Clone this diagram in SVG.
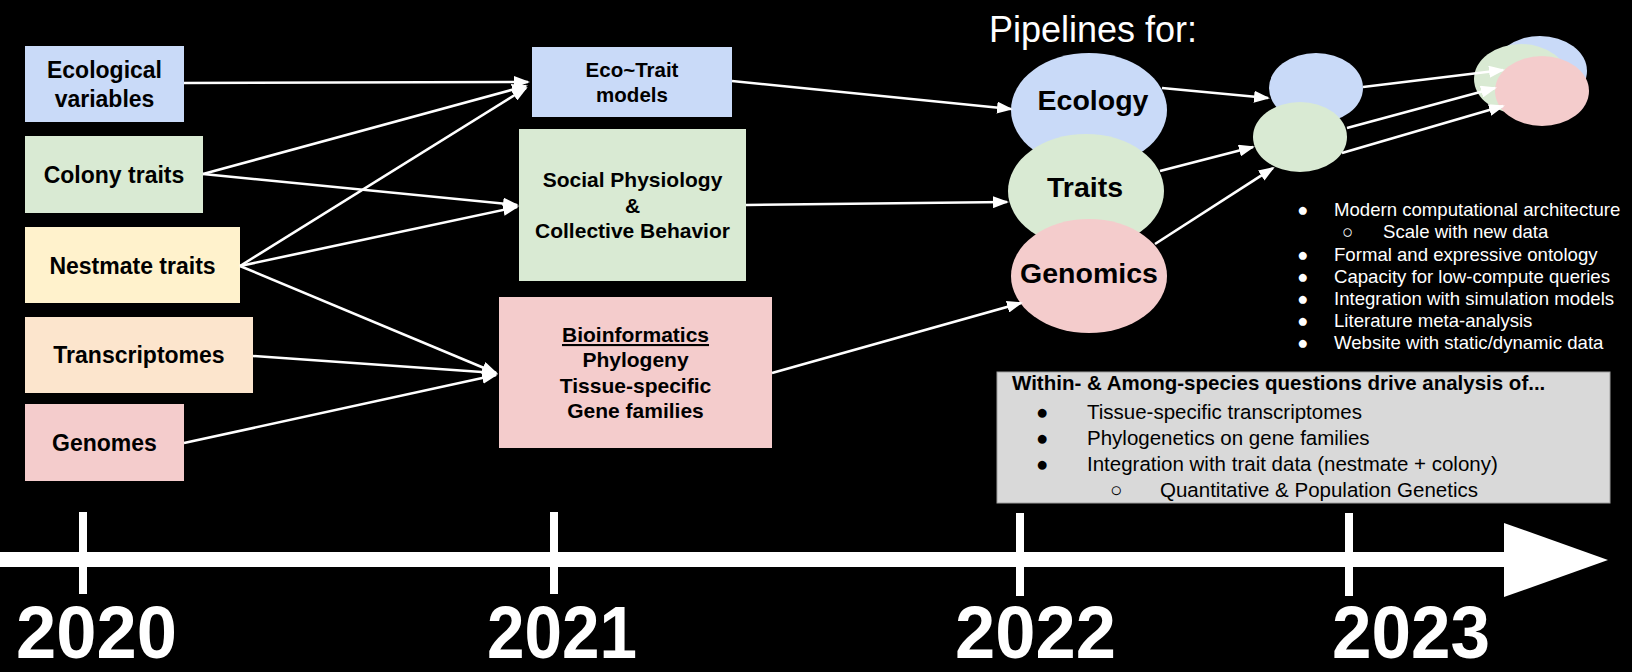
<svg xmlns="http://www.w3.org/2000/svg" width="1632" height="672" viewBox="0 0 1632 672">
<style>
.bx{font-family:"Liberation Sans",Arial,sans-serif;font-weight:bold;fill:#000;text-anchor:middle}
.b23{font-size:23px}
.b21{font-size:21px}
.b20{font-size:20.5px}
.el{font-family:"Liberation Sans",Arial,sans-serif;font-weight:bold;font-size:28.5px;fill:#000;text-anchor:middle}
.wt{font-family:"Liberation Sans",Arial,sans-serif;fill:#fff}
.gt{font-family:"Liberation Sans",Arial,sans-serif;fill:#000;font-size:20.5px}
.yr{font-family:"Liberation Sans",Arial,sans-serif;font-weight:bold;font-size:74px;fill:#fff;text-anchor:middle}
.con line{stroke:#fff;stroke-width:2.6;fill:none;marker-end:url(#ah)}
.blue{fill:#c9daf8}.green{fill:#d9ead3}.yel{fill:#fff2cc}.org{fill:#fce5cd}.pink{fill:#f4cccc}
</style>
<defs>
<marker id="ah" viewBox="0 0 16 12" refX="14" refY="6" markerWidth="16" markerHeight="12" markerUnits="userSpaceOnUse" orient="auto">
<path d="M0,0 L16,6 L0,12 z" fill="#fff"/>
</marker>
</defs>
<rect x="0" y="0" width="1632" height="672" fill="#000"/>

<g id="ecological"><rect class="blue" x="25" y="46" width="159" height="76"/><text class="bx b23" x="104.5" y="78">Ecological</text><text class="bx b23" x="104.5" y="107">variables</text></g>
<g id="colony"><rect class="green" x="25" y="136" width="178" height="77"/><text class="bx b23" x="114" y="183">Colony traits</text></g>
<g id="nestmate"><rect class="yel" x="25" y="227" width="215" height="76"/><text class="bx b23" x="132.5" y="274">Nestmate traits</text></g>
<g id="transcriptomes"><rect class="org" x="25" y="317" width="228" height="76"/><text class="bx b23" x="139" y="363">Transcriptomes</text></g>
<g id="genomes"><rect class="pink" x="25" y="404" width="159" height="77"/><text class="bx b23" x="104.5" y="451">Genomes</text></g>

<g id="ecotrait"><rect class="blue" x="532" y="47" width="200" height="70"/><text class="bx b20" x="632" y="77">Eco~Trait</text><text class="bx b20" x="632" y="102">models</text></g>
<g id="social"><rect class="green" x="519" y="129" width="227" height="152"/><text class="bx b21" x="632.5" y="187">Social Physiology</text><text class="bx b21" x="632.5" y="213">&amp;</text><text class="bx b21" x="632.5" y="238">Collective Behavior</text></g>
<g id="bioinformatics"><rect class="pink" x="499" y="297" width="273" height="151"/><text class="bx b21" x="635.5" y="342" text-decoration="underline">Bioinformatics</text><text class="bx b21" x="635.5" y="367">Phylogeny</text><text class="bx b21" x="635.5" y="393">Tissue-specific</text><text class="bx b21" x="635.5" y="418">Gene families</text></g>

<g id="pipelines-title"><text class="wt" x="989" y="42" font-size="36">Pipelines for:</text></g>
<g id="ecology"><ellipse class="blue" cx="1089" cy="110" rx="78" ry="57"/><text class="el" x="1093" y="110">Ecology</text></g>
<g id="traits"><ellipse class="green" cx="1086" cy="191" rx="78" ry="57"/><text class="el" x="1085" y="197">Traits</text></g>
<g id="genomics"><ellipse class="pink" cx="1089" cy="276" rx="78" ry="57"/><text class="el" x="1089" y="283">Genomics</text></g>

<g id="mid-blue"><ellipse class="blue" cx="1316" cy="88" rx="47" ry="35"/></g>
<g id="mid-green"><ellipse class="green" cx="1300" cy="137" rx="47" ry="35"/></g>

<g id="final-blue"><ellipse class="blue" cx="1540" cy="71" rx="47" ry="35"/></g>
<g id="final-green"><ellipse class="green" cx="1521" cy="79" rx="47" ry="35"/></g>
<g id="final-pink"><ellipse class="pink" cx="1542" cy="91" rx="47" ry="35"/></g>

<g id="features" class="wt" font-size="18.6">
<text x="1297" y="216">●</text><text x="1334" y="216">Modern computational architecture</text>
<text x="1342" y="238">○</text><text x="1383" y="238">Scale with new data</text>
<text x="1297" y="261">●</text><text x="1334" y="261">Formal and expressive ontology</text>
<text x="1297" y="283">●</text><text x="1334" y="283">Capacity for low-compute queries</text>
<text x="1297" y="305">●</text><text x="1334" y="305">Integration with simulation models</text>
<text x="1297" y="327">●</text><text x="1334" y="327">Literature meta-analysis</text>
<text x="1297" y="349">●</text><text x="1334" y="349">Website with static/dynamic data</text>
</g>

<g id="analysis-box">
<rect x="997" y="372" width="613" height="131" fill="#d9d9d9" stroke="#a0a0a0" stroke-width="1"/>
<text class="gt" x="1012" y="390" font-weight="bold" font-size="21.5">Within- &amp; Among-species questions drive analysis of...</text>
<text class="gt" x="1036" y="419">●</text><text class="gt" x="1087" y="419">Tissue-specific transcriptomes</text>
<text class="gt" x="1036" y="445">●</text><text class="gt" x="1087" y="445">Phylogenetics on gene families</text>
<text class="gt" x="1036" y="471">●</text><text class="gt" x="1087" y="471">Integration with trait data (nestmate + colony)</text>
<text class="gt" x="1110" y="497">○</text><text class="gt" x="1160" y="497">Quantitative &amp; Population Genetics</text>
</g>

<g id="timeline">
<rect x="0" y="552" width="1505" height="15" fill="#fff"/>
<polygon points="1504,523 1608,560 1504,597" fill="#fff"/>
<rect x="79" y="512" width="8" height="82" fill="#fff"/>
<rect x="550" y="512" width="8" height="82" fill="#fff"/>
<rect x="1016" y="513" width="8" height="83" fill="#fff"/>
<rect x="1345" y="513" width="8" height="83" fill="#fff"/>
<text class="yr" x="96.5" y="658" textLength="161" lengthAdjust="spacingAndGlyphs">2020</text>
<text class="yr" x="562" y="658" textLength="150" lengthAdjust="spacingAndGlyphs">2021</text>
<text class="yr" x="1035.5" y="658" textLength="161" lengthAdjust="spacingAndGlyphs">2022</text>
<text class="yr" x="1411" y="658" textLength="158" lengthAdjust="spacingAndGlyphs">2023</text>
</g>

<g id="connectors" class="con">
<line x1="184" y1="83" x2="528" y2="82"/>
<line x1="203" y1="174" x2="526" y2="86"/>
<line x1="240" y1="266" x2="526" y2="88"/>
<line x1="203" y1="174" x2="517" y2="205"/>
<line x1="240" y1="266" x2="517" y2="207"/>
<line x1="240" y1="266" x2="496" y2="373"/>
<line x1="253" y1="356" x2="496" y2="373"/>
<line x1="184" y1="443" x2="496" y2="375"/>
<line x1="732" y1="81" x2="1011" y2="109"/>
<line x1="746" y1="205" x2="1007" y2="202"/>
<line x1="772" y1="373" x2="1021" y2="303"/>
<line x1="1162" y1="88" x2="1268" y2="98"/>
<line x1="1160" y1="171" x2="1253" y2="147"/>
<line x1="1155" y1="244" x2="1273" y2="168"/>
<line x1="1363" y1="87" x2="1503" y2="70"/>
<line x1="1347" y1="128" x2="1495" y2="88"/>
<line x1="1342" y1="153" x2="1503" y2="106"/>
</g>
</svg>
